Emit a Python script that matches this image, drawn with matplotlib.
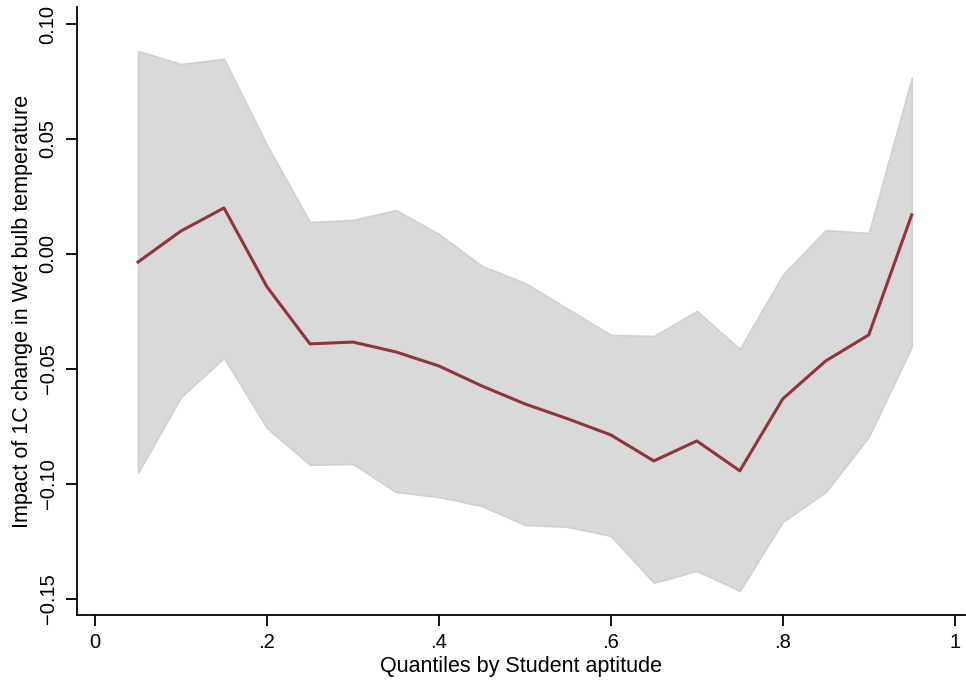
import numpy as np
import matplotlib
matplotlib.use("Agg")
import matplotlib.pyplot as plt

plt.rcParams['font.family'] = ['Liberation Sans', 'DejaVu Sans']

# quantile grid and estimated effect with its confidence band
quantiles = [0.05, 0.10, 0.15, 0.20, 0.25, 0.30, 0.35, 0.40, 0.45, 0.50,
             0.55, 0.60, 0.65, 0.70, 0.75, 0.80, 0.85, 0.90, 0.95]
coef = [-0.0035, 0.0100, 0.0200, -0.0143, -0.0391, -0.0383, -0.0426, -0.0487,
        -0.0574, -0.0652, -0.0717, -0.0787, -0.0900, -0.0813, -0.0943, -0.0630,
        -0.0465, -0.0352, 0.0170]
ci_hi = [0.0883, 0.0826, 0.0848, 0.0474, 0.0139, 0.0148, 0.0191, 0.0087,
         -0.0052, -0.0126, -0.0239, -0.0352, -0.0357, -0.0248, -0.0413, -0.0091,
         0.0104, 0.0091, 0.0765]
ci_lo = [-0.0952, -0.0622, -0.0452, -0.0757, -0.0917, -0.0913, -0.1035, -0.1057,
         -0.1096, -0.1178, -0.1187, -0.1226, -0.1430, -0.1378, -0.1465, -0.1165,
         -0.1035, -0.0796, -0.0404]

xticks = [0, 0.2, 0.4, 0.6, 0.8, 1.0]
xticklabels = ['0', '.2', '.4', '.6', '.8', '1']
yticks = [-0.15, -0.10, -0.05, 0.00, 0.05, 0.10]
yticklabels = ['\u22120.15', '\u22120.10', '\u22120.05', '0.00', '0.05', '0.10']

fig = plt.figure(figsize=(9.66, 6.86), dpi=100)
ax = fig.add_axes([0.0797, 0.1035, 0.9193, 0.8863])

ax.fill_between(quantiles, ci_lo, ci_hi, facecolor='#d9d9d9',
                edgecolor='#d0d0d0', linewidth=1.2, zorder=1)
ax.plot(quantiles, coef, color='#90353b', linewidth=2.2, zorder=2)

ax.set_xlim(-0.021, 1.012)
ax.set_ylim(-0.157, 0.1074)

ax.spines['top'].set_visible(False)
ax.spines['right'].set_visible(False)
for s in ['left', 'bottom']:
    ax.spines[s].set_linewidth(1.3)

ax.set_xticks(xticks)
ax.set_xticklabels(xticklabels)
ax.set_yticks(yticks)
ax.set_yticklabels(yticklabels, rotation=90, va='center')
ax.tick_params(axis='both', direction='out', length=8, width=1.3,
               labelsize=14.5, colors='black')
ax.tick_params(axis='x', pad=5)
ax.tick_params(axis='y', pad=6)

ax.set_xlabel('Quantiles by Student aptitude', fontsize=15.5, labelpad=3)
ax.set_ylabel('Impact of 1C change in Wet bulb temperature', fontsize=15.5,
              labelpad=4)

fig.savefig('out.png', dpi=100)
